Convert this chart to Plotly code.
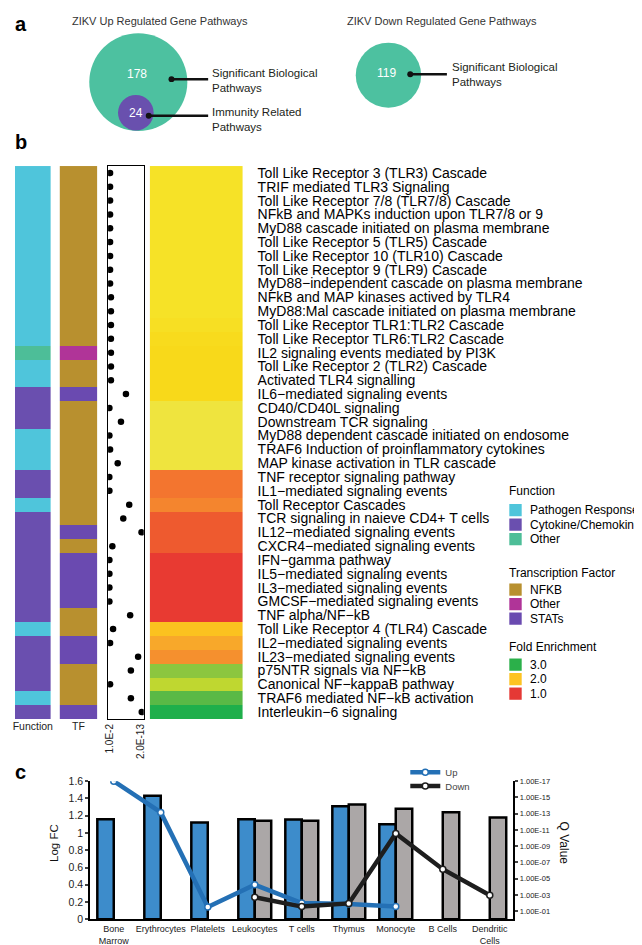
import plotly.graph_objects as go

W, H = 642, 945


def px(x):
    return x / W


def py(y):
    return 1 - y / H


FONT = "Liberation Sans, Arial, sans-serif"

# ---------------- Panel a data ----------------
venn_titles = ["ZIKV Up Regulated Gene Pathways", "ZIKV Down Regulated Gene Pathways"]
up_sig_pathways = 178
up_immune_pathways = 24
down_sig_pathways = 119

# ---------------- Panel b data ----------------
pathways = [
    "Toll Like Receptor 3 (TLR3) Cascade",
    "TRIF mediated TLR3 Signaling",
    "Toll Like Receptor 7/8 (TLR7/8) Cascade",
    "NFkB and MAPKs induction upon TLR7/8 or 9",
    "MyD88 cascade initiated on plasma membrane",
    "Toll Like Receptor 5 (TLR5) Cascade",
    "Toll Like Receptor 10 (TLR10) Cascade",
    "Toll Like Receptor 9 (TLR9) Cascade",
    "MyD88\u2212independent cascade on plasma membrane",
    "NFkB and MAP kinases actived by TLR4",
    "MyD88:Mal cascade initiated on plasma membrane",
    "Toll Like Receptor TLR1:TLR2 Cascade",
    "Toll Like Receptor TLR6:TLR2 Cascade",
    "IL2 signaling events mediated by PI3K",
    "Toll Like Receptor 2 (TLR2) Cascade",
    "Activated TLR4 signalling",
    "IL6\u2212mediated signaling events",
    "CD40/CD40L signaling",
    "Downstream TCR signaling",
    "MyD88 dependent cascade initiated on endosome",
    "TRAF6 Induction of proinflammatory cytokines",
    "MAP kinase activation in TLR cascade",
    "TNF receptor signaling pathway",
    "IL1\u2212mediated signaling events",
    "Toll Receptor Cascades",
    "TCR signaling in naieve CD4+ T cells",
    "IL12\u2212mediated signaling events",
    "CXCR4\u2212mediated signaling events",
    "IFN\u2212gamma pathway",
    "IL5\u2212mediated signaling events",
    "IL3\u2212mediated signaling events",
    "GMCSF\u2212mediated signaling events",
    "TNF alpha/NF\u2212kB",
    "Toll Like Receptor 4 (TLR4) Cascade",
    "IL2\u2212mediated signaling events",
    "IL23\u2212mediated signaling events",
    "p75NTR signals via NF\u2212kB",
    "Canonical NF\u2212kappaB pathway",
    "TRAF6 mediated NF\u2212kB activation",
    "Interleukin\u22126 signaling",
]

# PR = Pathogen Response, CC = Cytokine/Chemokine, OT = Other
function_class = [
    "PR", "PR", "PR", "PR", "PR", "PR", "PR", "PR", "PR", "PR",
    "PR", "PR", "PR", "OT", "PR", "PR", "CC", "CC", "CC", "PR",
    "PR", "PR", "CC", "CC", "PR", "CC", "CC", "CC", "CC", "CC",
    "CC", "CC", "CC", "PR", "CC", "CC", "CC", "CC", "PR", "CC",
]
# NF = NFKB, OT = Other, ST = STATs
tf_class = [
    "NF", "NF", "NF", "NF", "NF", "NF", "NF", "NF", "NF", "NF",
    "NF", "NF", "NF", "OT", "NF", "NF", "ST", "NF", "NF", "NF",
    "NF", "NF", "NF", "NF", "NF", "NF", "ST", "NF", "ST", "ST",
    "ST", "ST", "NF", "NF", "ST", "ST", "NF", "NF", "NF", "ST",
]
q_value = [
    1.0e-2, 1.0e-2, 1.0e-2, 1.0e-2, 1.0e-2, 1.0e-2, 1.0e-2, 1.0e-2, 1.0e-2, 5.0e-3,
    5.0e-3, 5.0e-3, 5.0e-3, 5.0e-3, 5.0e-3, 5.0e-3, 3.0e-8, 1.7e-2, 1.6e-6, 1.7e-2,
    1.0e-2, 2.2e-5, 1.8e-2, 1.7e-2, 2.1e-9, 2.5e-7, 1.1e-13, 1.6e-3, 1.7e-2, 1.7e-2,
    1.7e-2, 1.7e-2, 1.0e-9, 9.0e-4, 1.0e-2, 1.7e-12, 5.6e-10, 1.0e-2, 5.6e-10, 9.0e-14,
]
fold_enrichment = [
    2.3, 2.3, 2.3, 2.3, 2.3, 2.3, 2.3, 2.3, 2.3, 2.3,
    2.3, 2.27, 2.22, 2.2, 2.2, 2.2, 2.2, 2.4, 2.4, 2.4,
    2.4, 2.4, 1.5, 1.5, 1.62, 1.3, 1.3, 1.3, 1.1, 1.1,
    1.1, 1.1, 1.1, 2.0, 1.85, 1.7, 2.75, 2.6, 2.9, 3.0,
]
dot_ticks = [1.0e-2, 2.0e-13]
dot_ticklabels = ["1.0E-2", "2.0E-13"]

function_order = ["PR", "CC", "OT"]
function_labels = ["Pathogen Response", "Cytokine/Chemokine", "Other"]
function_colors = ["#4FC5DB", "#6A4FAF", "#4DBE98"]
tf_order = ["NF", "OT", "ST"]
tf_labels = ["NFKB", "Other", "STATs"]
tf_colors = ["#B8902F", "#B03498", "#6A4AB0"]
fe_legend_labels = ["3.0", "2.0", "1.0"]
fe_legend_colors = ["#2BB04A", "#FDC322", "#E53935"]

fe_colorscale = [
    [0.0, "#E53434"], [0.05, "#E83A32"], [0.15, "#EE5A2F"], [0.25, "#F3752F"],
    [0.35, "#F5902E"], [0.425, "#F8A82A"], [0.5, "#FBC21F"], [0.6, "#F8D91A"],
    [0.65, "#F6E227"], [0.7, "#EFE43E"], [0.8, "#BFD730"], [0.875, "#8CC63F"],
    [0.95, "#5AB946"], [1.0, "#1FAF4B"],
]

# ---------------- Panel c data ----------------
cell_types = ["Bone<br>Marrow", "Erythrocytes", "Platelets", "Leukocytes", "T cells",
              "Thymus", "Monocyte", "B Cells", "Dendritic<br>Cells"]
logfc_up = [1.16, 1.43, 1.12, 1.16, 1.155, 1.31, 1.10, None, None]
logfc_down = [None, None, None, 1.14, 1.14, 1.33, 1.28, 1.24, 1.18]
qvalue_up = [1e-17, 7e-14, 3e-2, 5.6e-5, 1.0e-2, 1.3e-2, 2.7e-2, None, None]
qvalue_down = [None, None, None, 1.9e-3, 2.7e-2, 1.1e-2, 2.8e-11, 6.8e-7, 1.1e-3]
logfc_ticks = [0, 0.2, 0.4, 0.6, 0.8, 1.0, 1.2, 1.4, 1.6]
logfc_ticklabels = ["0", "0.2", "0.4", "0.6", "0.8", "1", "1.2", "1.4", "1.6"]
q_ticks = [1e-17, 1e-15, 1e-13, 1e-11, 1e-9, 1e-7, 1e-5, 1e-3, 1e-1]
q_ticklabels = ["1.00E-17", "1.00E-15", "1.00E-13", "1.00E-11", "1.00E-09",
                "1.00E-07", "1.00E-05", "1.00E-03", "1.00E-01"]

UP_BAR = "#3D8CCB"
DOWN_BAR = "#ABA7A7"
UP_LINE = "#2470B5"
DOWN_LINE = "#1E1E1E"


def discrete_scale(colors):
    n = len(colors)
    out = []
    for i, c in enumerate(colors):
        out.append([i / n, c])
        out.append([(i + 1) / n, c])
    return out


rows = list(range(len(pathways)))

fig = go.Figure()

# Function column
fig.add_trace(go.Heatmap(
    z=[[function_order.index(c)] for c in function_class], x=["Function"], y=rows,
    colorscale=discrete_scale(function_colors), zmin=-0.5, zmax=2.5,
    showscale=False, hoverinfo="skip", xaxis="x", yaxis="y"))
# TF column
fig.add_trace(go.Heatmap(
    z=[[tf_order.index(c)] for c in tf_class], x=["TF"], y=rows,
    colorscale=discrete_scale(tf_colors), zmin=-0.5, zmax=2.5,
    showscale=False, hoverinfo="skip", xaxis="x2", yaxis="y2"))
# q-value dots
fig.add_trace(go.Scatter(
    x=q_value, y=rows, mode="markers",
    marker=dict(color="black", size=6.5), showlegend=False, hoverinfo="skip",
    xaxis="x3", yaxis="y3"))
# Fold enrichment
fig.add_trace(go.Heatmap(
    z=[[v] for v in fold_enrichment], x=["FE"], y=rows,
    colorscale=fe_colorscale, zmin=1.0, zmax=3.0,
    showscale=False, hoverinfo="skip", xaxis="x4", yaxis="y4"))

# Panel c bars
fig.add_trace(go.Bar(
    x=cell_types, y=logfc_up, name="Up", marker=dict(color=UP_BAR, line=dict(color="black", width=2.5)),
    showlegend=False, xaxis="x5", yaxis="y5"))
fig.add_trace(go.Bar(
    x=cell_types, y=logfc_down, name="Down", marker=dict(color=DOWN_BAR, line=dict(color="black", width=2.5)),
    showlegend=False, xaxis="x5", yaxis="y5"))
# Panel c q-value lines
fig.add_trace(go.Scatter(
    x=cell_types, y=qvalue_up, name="Up", mode="lines+markers", legend="legend",
    line=dict(color=UP_LINE, width=4.5),
    marker=dict(symbol="circle", size=6, color="white", line=dict(color=UP_LINE, width=1.5)),
    xaxis="x5", yaxis="y6"))
fig.add_trace(go.Scatter(
    x=cell_types, y=qvalue_down, name="Down", mode="lines+markers", legend="legend2",
    line=dict(color=DOWN_LINE, width=4.5),
    marker=dict(symbol="circle", size=6, color="white", line=dict(color=DOWN_LINE, width=1.5)),
    xaxis="x5", yaxis="y6"))

ydom = [py(714), py(154)]
hidden_y = dict(domain=ydom, range=[len(rows) - 0.5, -0.5], showticklabels=False, ticks="",
                showgrid=False, zeroline=False, showline=False, fixedrange=True)
col_x = dict(showgrid=False, zeroline=False, showline=False, ticks="", fixedrange=True,
             tickfont=dict(size=10.5, color="#222", family=FONT))

shapes = []
annotations = []


# ---------- Panel a drawing ----------
def circle(cx, cy, r, color):
    shapes.append(dict(type="circle", xref="paper", yref="paper",
                       x0=px(cx - r), x1=px(cx + r), y0=py(cy + r), y1=py(cy - r),
                       fillcolor=color, line=dict(width=0), layer="above"))


def leader(x0, x1, y):
    shapes.append(dict(type="line", xref="paper", yref="paper", x0=px(x0), x1=px(x1),
                       y0=py(y), y1=py(y), line=dict(color="#111", width=2.5), layer="above"))
    shapes.append(dict(type="circle", xref="paper", yref="paper", x0=px(x0 - 3), x1=px(x0 + 3),
                       y0=py(y + 3), y1=py(y - 3), fillcolor="#111", line=dict(width=0), layer="above"))


def text(x, y, s, size, color="#231F20", xanchor="left", bold=False, angle=0, align="left"):
    annotations.append(dict(x=px(x), y=py(y), xref="paper", yref="paper", text=("<b>%s</b>" % s) if bold else s,
                            showarrow=False, xanchor=xanchor, yanchor="middle", textangle=angle, align=align,
                            font=dict(size=size, color=color, family=FONT)))


circle(127.5, 69, 49.5, "#4DC1A0")
circle(125, 100, 18, "#6950AE")
circle(380, 62, 33, "#4DC1A0")
leader(161, 198, 66)
leader(138, 198, 103)
leader(402, 439, 61)
text(126, 61, str(up_sig_pathways), 12, "white", "center")
text(125.5, 100, str(up_immune_pathways), 12, "white", "center")
text(378, 60, str(down_sig_pathways), 12, "white", "center")
text(200, 67.5, "Significant Biological<br>Pathways", 11.5)
text(200, 106.5, "Immunity Related<br>Pathways", 11.5)
text(442, 61, "Significant Biological<br>Pathways", 11.5)
text(59, 7, venn_titles[0], 11, "#333")
text(336, 7, venn_titles[1], 11, "#333")

# panel letters
text(1, 10, "a", 20, "black", bold=True)
text(1, 130, "b", 20, "black", bold=True)
text(1, 768, "c", 20, "black", bold=True)


# ---------- Panel b legend ----------
def legend_block(title, y_title, labels, colors, y0, step=14.7):
    text(500, y_title, title, 12, "black")
    for i, (lab, col) in enumerate(zip(labels, colors)):
        yc = y0 + i * step
        shapes.append(dict(type="rect", xref="paper", yref="paper", x0=px(502), x1=px(514.5),
                           y0=py(yc + 6.2), y1=py(yc - 6.2), fillcolor=col, line=dict(width=0)))
        text(520.5, yc, lab, 12, "black")


legend_block("Function", 483, function_labels, function_colors, 502.5)
legend_block("Transcription Factor", 566, tf_labels, tf_colors, 583)
legend_block("Fold Enrichment", 641, fe_legend_labels, fe_legend_colors, 659)

# ---------- Panel c axis titles ----------
text(43, 840, "Log FC", 11.5, "#111", "center", angle=-90)
text(557, 840, "Q Value", 12, "#111", "center", angle=90)

legend_common = dict(xanchor="left", yanchor="middle", bgcolor="rgba(0,0,0,0)",
                     font=dict(size=9.5, color="#444", family=FONT), itemwidth=30,
                     tracegroupgap=0, borderwidth=0)

fig.update_layout(
    width=W, height=H, margin=dict(l=0, r=0, t=0, b=0),
    paper_bgcolor="white", plot_bgcolor="white",
    font=dict(family=FONT, color="black"),
    barmode="group", bargap=0.3, bargroupgap=0,
    shapes=shapes, annotations=annotations,
    showlegend=True,
    legend=dict(x=px(397), y=py(768), **legend_common),
    legend2=dict(x=px(397), y=py(782), **legend_common),
    xaxis=dict(domain=[px(3), px(39)], anchor="y", **col_x),
    yaxis=dict(anchor="x", **hidden_y),
    xaxis2=dict(domain=[px(48), px(86)], anchor="y2", **col_x),
    yaxis2=dict(anchor="x2", **hidden_y),
    xaxis3=dict(domain=[px(97), px(133)], anchor="y3", type="log", range=[-1.31, -13.74],
                tickvals=dot_ticks, ticktext=dot_ticklabels, tickangle=-90, ticks="",
                showgrid=False, zeroline=False, showline=True, mirror=True, linecolor="black",
                linewidth=1.2, tickfont=dict(size=10, color="#222", family=FONT), fixedrange=True),
    yaxis3=dict(anchor="x3", domain=ydom, range=[len(rows) - 0.5, -0.5], showticklabels=False,
                ticks="", showgrid=False, zeroline=False, showline=True, mirror=True,
                linecolor="black", linewidth=1.2, fixedrange=True),
    xaxis4=dict(domain=[px(139), px(233)], anchor="y4", showticklabels=False, ticks="",
                showgrid=False, zeroline=False, showline=False, fixedrange=True),
    yaxis4=dict(anchor="x4", domain=ydom, range=[len(rows) - 0.5, -0.5], side="right",
                tickmode="array", tickvals=rows, ticktext=pathways, ticks="outside", ticklen=11,
                tickcolor="rgba(0,0,0,0)", showgrid=False, zeroline=False, showline=False,
                tickfont=dict(size=14, color="black", family=FONT), fixedrange=True),
    xaxis5=dict(domain=[px(79), px(506)], anchor="y5", type="category", range=[-0.5, 8.5],
                showline=True, linecolor="black", linewidth=2, ticks="", showgrid=False,
                tickfont=dict(size=9, color="#222", family=FONT), fixedrange=True),
    yaxis5=dict(domain=[py(917), py(777)], anchor="x5", range=[0, 1.6], tickvals=logfc_ticks,
                ticktext=logfc_ticklabels, showline=True, linecolor="black", linewidth=2,
                ticks="outside", ticklen=3, tickwidth=1.5, showgrid=False, zeroline=False,
                tickfont=dict(size=10.5, color="#222", family=FONT), fixedrange=True),
    yaxis6=dict(overlaying="y5", side="right", anchor="x5", type="log", range=[0, -17],
                tickvals=q_ticks, ticktext=q_ticklabels, showline=True, linecolor="black",
                linewidth=2, ticks="outside", ticklen=3, tickwidth=1.5, showgrid=False,
                zeroline=False, tickfont=dict(size=7.5, color="#222", family=FONT), fixedrange=True),
)

fig.write_html("out.html", config={"displayModeBar": False})
